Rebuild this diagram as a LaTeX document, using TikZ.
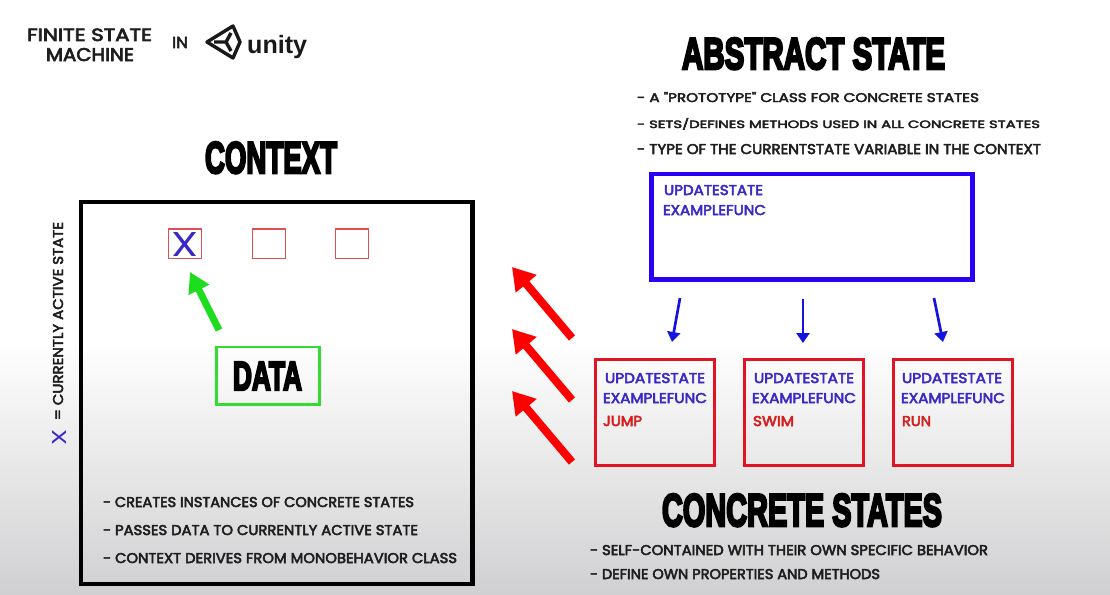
\documentclass[tikz,border=0pt]{standalone}
\usepackage{fontspec}
\usepackage{graphicx}
\usetikzlibrary{arrows.meta}
\setmainfont{Poppins}
\newfontfamily\bodyfont[FakeBold=3.5]{Poppins}
\newfontfamily\thinfont{Poppins}
\newfontfamily\titlefont[BoldFeatures={FakeBold=6}]{Liberation Sans}
\newfontfamily\unityfont{Liberation Sans}
\newcommand\fitbox[3]{\resizebox{#1pt}{#2pt}{#3}}
\definecolor{bgbot}{RGB}{208,208,210}
\definecolor{txtgray}{RGB}{30,30,30}
\definecolor{ablue}{RGB}{40,0,245}
\definecolor{tblue}{RGB}{58,40,200}
\definecolor{arblue}{RGB}{20,20,225}
\definecolor{cred}{RGB}{225,20,35}
\definecolor{tred}{RGB}{215,30,30}
\definecolor{arred}{RGB}{255,0,0}
\definecolor{dgreen}{RGB}{50,220,50}
\definecolor{agreen}{RGB}{30,220,30}
\definecolor{sred}{RGB}{225,80,80}
\begin{document}
\begin{tikzpicture}[x=1pt,y=-1pt,
  txt/.style={anchor=base west, inner sep=0pt, outer sep=0pt, text=txtgray, font=\bodyfont\fontsize{20}{24}\selectfont},
  ttl/.style={anchor=base west, inner sep=0pt, outer sep=0pt, text=black, font=\titlefont\bfseries\fontsize{40}{48}\selectfont},
  btxt/.style={txt, text=tblue},
  rtxt/.style={txt, text=tred},
  boxnode/.style={inner sep=0pt, outer sep=0pt},
  ctxbox/.style={boxnode, draw=black, line width=4.5pt, minimum width=391.5pt, minimum height=382pt},
  absbox/.style={boxnode, draw=ablue, line width=4.5pt, minimum width=321pt, minimum height=105.5pt},
  conbox/.style={boxnode, draw=cred, line width=3pt, minimum width=119pt, minimum height=106pt},
  databox/.style={boxnode, draw=dgreen, line width=2.5pt, minimum width=103pt, minimum height=57.5pt},
  slotbox/.style={boxnode, draw=sred, line width=1.3pt, minimum width=33pt, minimum height=29.5pt},
  redarr/.style={draw=arred, line width=8pt, -{Triangle[length=22pt,width=26pt]}},
  bluearr/.style={draw=arblue, line width=2.7pt, -{Triangle[length=10pt,width=13pt]}},
  greenarr/.style={draw=agreen, line width=7pt, -{Triangle[length=20pt,width=22pt]}}
]
\useasboundingbox (0,0) rectangle (1110,594);
\fill[white] (0,0) rectangle (1110,594);
\begin{scope}[y=1pt]
  \shade[top color=white, bottom color=bgbot] (0,-594) rectangle (1110,-340);
\end{scope}

% header
\node[txt] (hdr1) at (27,41) {\fitbox{125}{12.5}{FINITE STATE}};
\node[txt] (hdr2) at (46,61) {\fitbox{88}{13}{MACHINE}};
\node[txt] (hdrin) at (172,48) {\fitbox{16}{11}{IN}};
% unity logo
\draw[line width=3.4pt, line join=round, black!90] (207,42) -- (233,26) -- (240,42) -- (233,58) -- cycle;
\draw[line width=3.4pt, black!90] (214,42) -- (226,42) -- (231,33);
\draw[line width=3.4pt, black!90] (226,42) -- (231,51);
\node[anchor=base west, inner sep=0pt, text=black!90] (unity) at (247,53) {\resizebox{60pt}{!}{\unityfont\bfseries unity}};

% abstract state
\node[ttl] (abstitle) at (682,69) {\fitbox{263}{31}{ABSTRACT STATE}};
\node[txt] (ab1) at (637,102) {\fitbox{342}{10}{- A "PROTOTYPE" CLASS FOR CONCRETE STATES}};
\node[txt] (ab2) at (637,128) {\fitbox{403}{10}{- SETS/DEFINES METHODS USED IN ALL CONCRETE STATES}};
\node[txt] (ab3) at (637,154) {\fitbox{404}{10}{- TYPE OF THE CURRENTSTATE VARIABLE IN THE CONTEXT}};
\node[absbox] (abs) at (812,226.75) {};
\node[btxt] (absu) at (664,195) {\fitbox{99}{10}{UPDATESTATE}};
\node[btxt] (abse) at (663,215) {\fitbox{103}{10}{EXAMPLEFUNC}};

% concrete states
\node[conbox] (c1) at (655,412.5) {};
\node[conbox] (c2) at (804,412.5) {};
\node[conbox] (c3) at (953,412.5) {};
\node[btxt] (c1u) at (605,383) {\fitbox{100}{10}{UPDATESTATE}};
\node[btxt] (c1e) at (603,403) {\fitbox{104}{10}{EXAMPLEFUNC}};
\node[rtxt] (c1j) at (603,426) {\fitbox{39}{10}{JUMP}};
\node[btxt] (c2u) at (754,383) {\fitbox{100}{10}{UPDATESTATE}};
\node[btxt] (c2e) at (752,403) {\fitbox{104}{10}{EXAMPLEFUNC}};
\node[rtxt] (c2s) at (753,426) {\fitbox{41}{10}{SWIM}};
\node[btxt] (c3u) at (902,383) {\fitbox{100}{10}{UPDATESTATE}};
\node[btxt] (c3e) at (901,403) {\fitbox{104}{10}{EXAMPLEFUNC}};
\node[rtxt] (c3r) at (902,426) {\fitbox{29}{10}{RUN}};
\node[ttl] (contitle) at (662,526) {\fitbox{280}{32}{CONCRETE STATES}};
\node[txt] (cb1) at (590,555) {\fitbox{398}{10}{- SELF-CONTAINED WITH THEIR OWN SPECIFIC BEHAVIOR}};
\node[txt] (cb2) at (590,579) {\fitbox{290}{10}{- DEFINE OWN PROPERTIES AND METHODS}};

% blue arrows
\coordinate (ba1s) at (680,298); \coordinate (ba1e) at (672,342);
\coordinate (ba2s) at (803,299); \coordinate (ba2e) at (803,343);
\coordinate (ba3s) at (934,298); \coordinate (ba3e) at (943,342);
\draw[bluearr] (ba1s) -- (ba1e);
\draw[bluearr] (ba2s) -- (ba2e);
\draw[bluearr] (ba3s) -- (ba3e);

% context
\node[ttl] (ctxtitle) at (205,173) {\fitbox{132}{31}{CONTEXT}};
\node[ctxbox] (ctx) at (276.75,393) {};
\node[slotbox] (s1) at (185,243.75) {};
\node[slotbox] (s2) at (269.3,243.75) {};
\node[slotbox] (s3) at (352,243.75) {};
\node[inner sep=0pt, text=tblue, font=\thinfont\fontsize{20}{24}\selectfont] (sx) at (185,244.5) {\fitbox{27}{24}{X}};
\node[databox] (data) at (268,375.75) {};
\node[ttl] (datatxt) at (233,390) {\fitbox{69}{28}{DATA}};
\coordinate (gas) at (219,330); \coordinate (gae) at (190,272);
\draw[greenarr] (gas) -- (gae);
\node[txt] (ct1) at (103,507) {\fitbox{311}{10}{- CREATES INSTANCES OF CONCRETE STATES}};
\node[txt] (ct2) at (103,535) {\fitbox{315}{10}{- PASSES DATA TO CURRENTLY ACTIVE STATE}};
\node[txt] (ct3) at (103,563) {\fitbox{354}{10}{- CONTEXT DERIVES FROM MONOBEHAVIOR CLASS}};

% legend
\node[txt, rotate=90, text=tblue, font=\thinfont\fontsize{20}{24}\selectfont] (legx) at (66,445) {\fitbox{16}{14}{X}};
\node[txt, rotate=90] (legtxt) at (63,420) {\fitbox{198}{10}{= CURRENTLY ACTIVE STATE}};

% red arrows
\coordinate (ra1s) at (572,338); \coordinate (ra1e) at (512,267);
\coordinate (ra2s) at (572,400); \coordinate (ra2e) at (512,329);
\coordinate (ra3s) at (572,462); \coordinate (ra3e) at (512,391);
\draw[redarr] (ra1s) -- (ra1e);
\draw[redarr] (ra2s) -- (ra2e);
\draw[redarr] (ra3s) -- (ra3e);
\end{tikzpicture}
\end{document}
